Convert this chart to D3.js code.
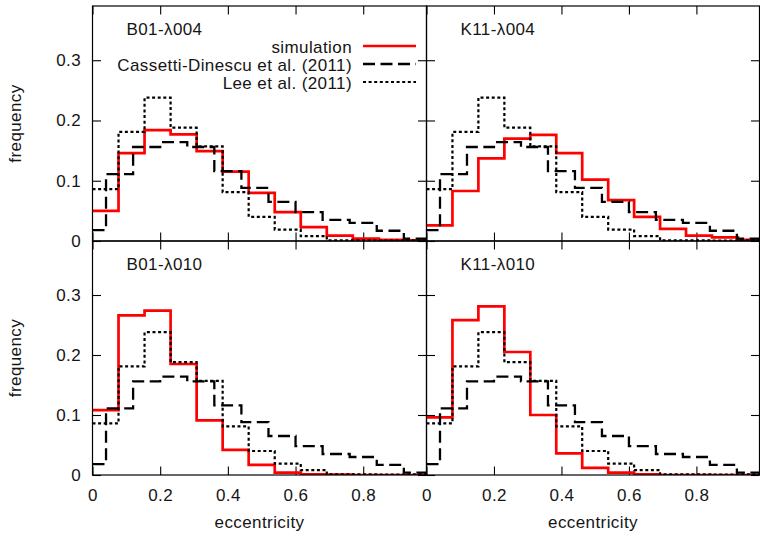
<!DOCTYPE html>
<html>
<head>
<meta charset="utf-8">
<script src="https://cdn.jsdelivr.net/npm/d3@7"></script>
<style>
  body { margin: 0; background: #fff; }
  svg { display: block; }
  text { font-family: "Liberation Sans", Arial, Helvetica, sans-serif; fill: #151515; letter-spacing: 0.4px; }
</style>
</head>
<body>
<svg id="chart" width="760" height="547"></svg>
<script>
// Panel titles (row-major: top-left, top-right, bottom-left, bottom-right)
const panelTitles = ["B01-\u03bb004", "K11-\u03bb004", "B01-\u03bb010", "K11-\u03bb010"];

// Bin edges: simulation and Lee et al. use 13 bins over [0,1];
// Cassetti-Dinescu et al. are centred on 0, 0.08, ..., 0.96
const edgesSim = [0, 0.0769, 0.1538, 0.2308, 0.3077, 0.3846, 0.4615, 0.5385, 0.6154, 0.6923, 0.7692, 0.8462, 0.9231, 1.0];
const edgesCD  = [0, 0.04, 0.12, 0.20, 0.28, 0.36, 0.44, 0.52, 0.60, 0.68, 0.76, 0.84, 0.92, 1.0];

// Simulated eccentricity frequencies, one array per model
const simB01_004 = [0.050, 0.146, 0.184, 0.177, 0.149, 0.115, 0.080, 0.048, 0.023, 0.009, 0.004, 0.002, 0.001];
const simK11_004 = [0.026, 0.083, 0.137, 0.170, 0.176, 0.146, 0.102, 0.068, 0.040, 0.020, 0.009, 0.006, 0.002];
const simB01_010 = [0.108, 0.266, 0.274, 0.185, 0.091, 0.042, 0.017, 0.004, 0.001, 0.0005, 0.0, 0.0, 0.0];
const simK11_010 = [0.096, 0.258, 0.281, 0.205, 0.100, 0.036, 0.012, 0.004, 0.001, 0.0, 0.0, 0.0, 0.0];

// Observed distributions (same in every panel)
const cassetti = [0.018, 0.111, 0.156, 0.164, 0.156, 0.116, 0.088, 0.065, 0.048, 0.035, 0.030, 0.017, 0.004];
const lee      = [0.086, 0.181, 0.238, 0.188, 0.157, 0.081, 0.040, 0.019, 0.008, 0.001, 0.001, 0.0005, 0.001];

const simSeries = [simB01_004, simK11_004, simB01_010, simK11_010];

// Axis ticks
const xTicks = [0, 0.2, 0.4, 0.6, 0.8];
const yTicks = [0, 0.1, 0.2, 0.3];
const xMax = 0.987, yMax = 0.39;

const legendLabels = ["simulation", "Cassetti-Dinescu et al. (2011)", "Lee et al. (2011)"];

const styles = [
  { stroke: "#ff0000", width: 2.7, dash: null },
  { stroke: "#000", width: 2.3, dash: "12,5.5" },
  { stroke: "#000", width: 2.2, dash: "3,2.6" }
];

const svg = d3.select("#chart");

// panel geometry
const colX = [[92.5, 426.5], [426.5, 759.5]];
const rowY = [[6, 241], [241, 475]];
const tickLen = 8.5;

const stepLine = d3.line().curve(d3.curveStepAfter);

function stepPoints(edges, vals) {
  const pts = vals.map((v, i) => [edges[i], v]);
  pts.push([edges[edges.length - 1], vals[vals.length - 1]]);
  return pts;
}

panelTitles.forEach((title, p) => {
  const col = p % 2, row = Math.floor(p / 2);
  const [x0, x1] = colX[col];
  const [y0, y1] = rowY[row];
  const x = d3.scaleLinear().domain([0, xMax]).range([x0, x1]);
  const y = d3.scaleLinear().domain([0, yMax]).range([y1, y0]);

  const g = svg.append("g");
  const clipId = "clip" + p;
  svg.append("clipPath").attr("id", clipId)
    .append("rect").attr("x", x0).attr("y", y0).attr("width", x1 - x0).attr("height", y1 - y0);

  // inward ticks on all four sides
  const axB = d3.axisBottom(x).tickValues(xTicks).tickSize(-tickLen).tickPadding(14)
    .tickFormat(row === 1 ? d3.format("") : () => "");
  const axT = d3.axisTop(x).tickValues(xTicks).tickSize(-tickLen).tickFormat(() => "");
  const axL = d3.axisLeft(y).tickValues(yTicks).tickSize(-tickLen).tickPadding(11.5)
    .tickFormat(col === 0 ? d3.format("") : () => "");
  const axR = d3.axisRight(y).tickValues(yTicks).tickSize(-tickLen).tickFormat(() => "");

  [[axB, `translate(0,${y1})`], [axT, `translate(0,${y0})`],
   [axL, `translate(${x0},0)`], [axR, `translate(${x1},0)`]].forEach(([ax, tr]) => {
    const a = g.append("g").attr("transform", tr).call(ax);
    a.select(".domain").remove();
    a.selectAll("line").attr("stroke", "#000").attr("stroke-width", 1.1);
    a.selectAll("text").attr("font-size", 17).attr("fill", "#151515")
      .style("font-family", '"Liberation Sans", Arial, sans-serif');
  });

  // histograms
  const dataSets = [
    [edgesSim, simSeries[p]],
    [edgesCD, cassetti],
    [edgesSim, lee]
  ];
  const hg = g.append("g").attr("clip-path", `url(#${clipId})`);
  dataSets.forEach(([edges, vals], s) => {
    const pts = stepPoints(edges, vals).map(([a, b]) => [x(a), y(b)]);
    hg.append("path")
      .attr("d", stepLine(pts))
      .attr("fill", "none")
      .attr("stroke", styles[s].stroke)
      .attr("stroke-width", styles[s].width)
      .attr("stroke-dasharray", styles[s].dash)
      .attr("stroke-linejoin", "miter");
  });

  // frame
  g.append("rect").attr("x", x0).attr("y", y0).attr("width", x1 - x0).attr("height", y1 - y0)
    .attr("fill", "none").attr("stroke", "#000").attr("stroke-width", 1.2);

  // panel title
  g.append("text").attr("x", x0 + 34).attr("y", y0 + 29).attr("font-size", 17).text(title);

  // axis titles
  if (col === 0) {
    const cy = (y0 + y1) / 2;
    g.append("text").attr("transform", `translate(21,${cy}) rotate(-90)`)
      .attr("text-anchor", "middle").attr("font-size", 17).text("frequency");
  }
  if (row === 1) {
    g.append("text").attr("x", (x0 + x1) / 2).attr("y", 528)
      .attr("text-anchor", "middle").attr("font-size", 17).text("eccentricity");
  }

  // legend in the first panel
  if (p === 0) {
    const lg = g.append("g");
    const ly = [46, 64, 82];
    legendLabels.forEach((lab, i) => {
      lg.append("text").attr("x", 352).attr("y", ly[i] + 6.5)
        .attr("text-anchor", "end").attr("font-size", 17).text(lab);
      lg.append("line").attr("x1", 363).attr("x2", 416).attr("y1", ly[i]).attr("y2", ly[i])
        .attr("stroke", styles[i].stroke).attr("stroke-width", styles[i].width)
        .attr("stroke-dasharray", styles[i].dash);
    });
  }
});
</script>
</body>
</html>
